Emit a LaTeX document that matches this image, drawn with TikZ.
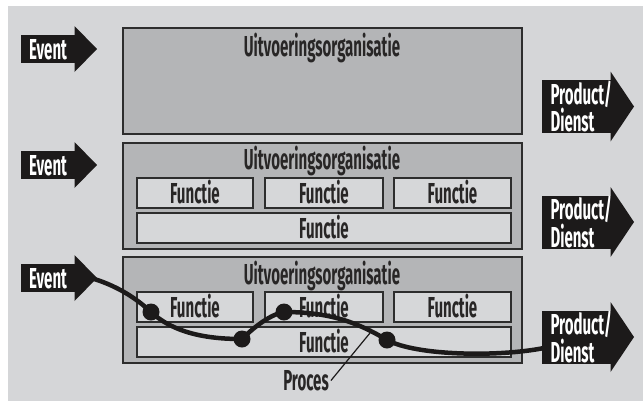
\documentclass[tikz,border=0pt]{standalone}
\usepackage{fontspec}
\newfontfamily\dfont{Fira Sans}[FakeStretch=0.52]
\definecolor{bgc}{RGB}{213,214,216}
\definecolor{orgc}{RGB}{180,181,183}
\definecolor{fnc}{RGB}{214,215,217}
\definecolor{linec}{RGB}{45,45,45}
\definecolor{txtc}{RGB}{40,38,38}
\definecolor{arrc}{RGB}{28,26,26}
\begin{document}
\begin{tikzpicture}[x=1bp,y=-1bp,
  lbl/.style={font=\dfont\bfseries\fontsize{29}{27}\selectfont, text height=20bp, text depth=0bp, inner sep=0pt},
  orgbox/.style={draw=linec, fill=orgc, line width=1.2bp, anchor=north west, inner sep=0pt, outer sep=0pt},
  fnbox/.style={draw=linec, fill=fnc, line width=1.2bp, anchor=north west, outer sep=0pt, minimum height=30bp, lbl, text=txtc},
  title/.style={lbl, text=txtc},
  evbody/.style={fill=arrc, text=white, lbl, minimum width=54bp, minimum height=28bp, outer sep=0pt},
  prbody/.style={fill=arrc, text=white, font=\dfont\bfseries\fontsize{29}{27.5}\selectfont, align=left, text width=52bp, minimum width=69bp, minimum height=53bp, inner sep=0pt, outer sep=0pt},
  ahead/.style={fill=arrc},
  proc/.style={line width=4.5bp, draw=arrc},
  dot/.style={circle, fill=arrc, minimum size=17bp, inner sep=0pt},
  leader/.style={draw=arrc, line width=1.2bp}
]
\useasboundingbox (0,0) rectangle (643,401);
\fill[bgc] (8,6) rectangle (643,401);

% organisation boxes
\node[orgbox, minimum width=399bp, minimum height=106bp] (o1) at (123,28) {};
\node[orgbox, minimum width=399bp, minimum height=106bp] (o2) at (123,143) {};
\node[orgbox, minimum width=399bp, minimum height=106bp] (o3) at (123,257) {};
\node[title] (t1) at (322,46) {Uitvoeringsorganisatie};
\node[title] (t2) at (322,159) {Uitvoeringsorganisatie};
\node[title] (t3) at (322,274.5) {Uitvoeringsorganisatie};

% function boxes
\node[fnbox, minimum width=116bp] (f21) at (137,178) {Functie};
\node[fnbox, minimum width=118bp] (f22) at (265,178) {Functie};
\node[fnbox, minimum width=117bp] (f23) at (394,178) {Functie};
\node[fnbox, minimum width=374bp] (f24) at (137,213) {Functie};
\node[fnbox, minimum width=116bp] (f31) at (137,292) {Functie};
\node[fnbox, minimum width=118bp] (f32) at (265,292) {Functie};
\node[fnbox, minimum width=117bp] (f33) at (394,292) {Functie};
\node[fnbox, minimum width=374bp] (f34) at (137,327) {Functie};

% event arrows
\foreach \n/\y in {e1/49, e2/165, e3/278}{
  \node[evbody] (\n) at (48,\y) {Event};
  \fill[ahead] ([xshift=-0.5bp,yshift=9bp]\n.north east) -- ([xshift=22bp]\n.east) -- ([xshift=-0.5bp,yshift=-9bp]\n.south east) -- cycle;
}

% product arrows
\foreach \n/\y in {p1/106.5, p2/222, p3/337}{
  \node[prbody] (\n) at (576.5,\y) {Product/\\Dienst};
  \fill[ahead] ([xshift=-0.5bp,yshift=8.5bp]\n.north east) -- ([xshift=23bp]\n.east) -- ([xshift=-0.5bp,yshift=-8.5bp]\n.south east) -- cycle;
}

% process
\coordinate (e3tip) at ([xshift=16bp]e3.east);
\coordinate (p3in) at ([xshift=2bp,yshift=-11bp]p3.west);
\node[dot] (d1) at (151,312) {};
\node[dot] (d2) at (242,339) {};
\node[dot] (d3) at (284,312) {};
\node[dot] (d4) at (387,340) {};
\draw[proc] (e3tip) .. controls +(24,7) and +(-16,-15) .. (d1.center)
  .. controls +(25,23) and +(-30,0) .. (d2.center)
  .. controls +(14,-14) and +(-12,2) .. (d3.center)
  .. controls +(45,0) and +(-30,-18) .. (d4.center)
  .. controls +(30,16) and +(-45,9) .. (p3in);

\node[title] (pr) at (306,380.5) {Proces};
\coordinate (lead) at (370,333);
\draw[leader] ([xshift=2bp]pr.east) -- (lead);
\end{tikzpicture}
\end{document}
